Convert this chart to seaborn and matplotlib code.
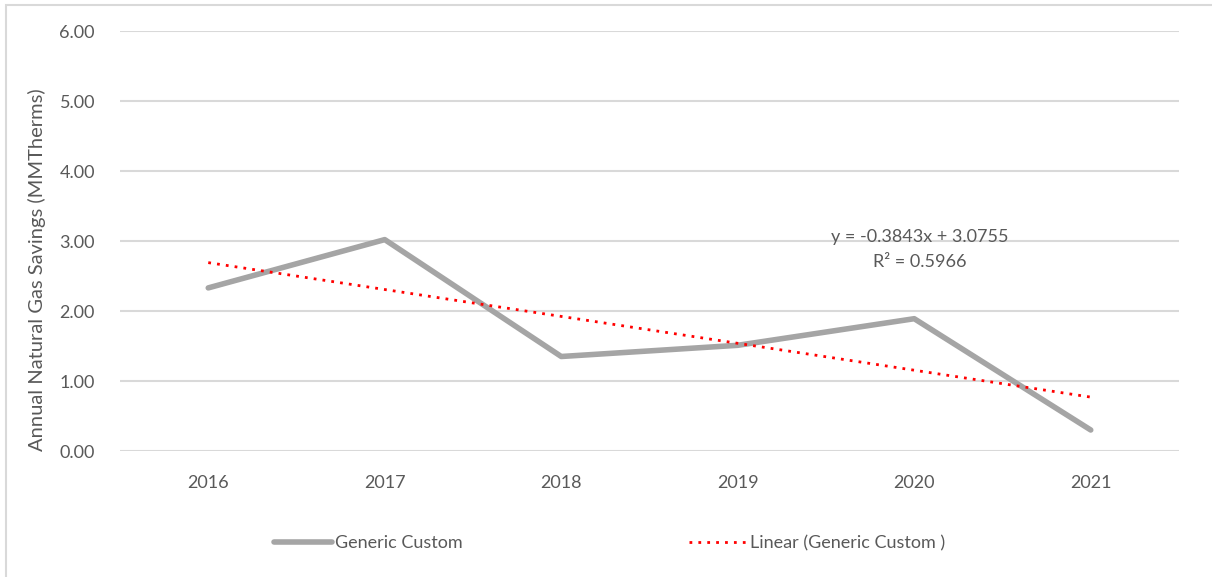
import numpy as np
import pandas as pd
import matplotlib
matplotlib.use('Agg')
import matplotlib.pyplot as plt
import seaborn as sns
from matplotlib.patches import Rectangle

# values
years = ['2016', '2017', '2018', '2019', '2020', '2021']
savings = [2.33, 3.02, 1.35, 1.51, 1.89, 0.30]
# excel linear trendline as printed on the chart (x = 1..n)
trend_slope = -0.3843
trend_intercept = 3.0755
trend_r2 = 0.5966
y_ticks = [0, 1, 2, 3, 4, 5, 6]

sns.set_style('white')
plt.rcParams['font.family'] = ['Lato', 'DejaVu Sans']

txt_col = '#595959'
grid_col = '#d9d9d9'
fs = 13

df = pd.DataFrame({'pos': np.arange(len(years)), 'year': years, 'savings': savings})
df['trend'] = trend_slope * (df['pos'] + 1) + trend_intercept

fig = plt.figure(figsize=(12.12, 5.77), dpi=100)
ax = fig.add_axes([120 / 1212, 1 - 451 / 577, (1179 - 120) / 1212, (451 - 31) / 577])

# outer chart border
fig.patches.append(Rectangle((6 / 1212, -0.05), 1.1, 1 - 5 / 577 + 0.05, transform=fig.transFigure,
                             fill=False, edgecolor=grid_col, linewidth=1.5, zorder=0))

for t in y_ticks:
    ax.axhline(t, color=grid_col, linewidth=1.5, zorder=0)

sns.lineplot(data=df, x='pos', y='savings', ax=ax, color='#a5a5a5', linewidth=4,
             solid_capstyle='round', label='Generic Custom', zorder=3)
sns.lineplot(data=df, x='pos', y='trend', ax=ax, color='#ff0000', linewidth=2,
             linestyle=(0, (1, 2.2)), label='Linear (Generic Custom )', zorder=4)

ax.set_xlim(-0.5, len(years) - 0.5)
ax.set_ylim(0, 6)
ax.set_xticks(df['pos'])
ax.set_xticklabels(years)
ax.set_yticks(y_ticks)
ax.set_yticklabels([f'{t:.2f}' for t in y_ticks])
ax.tick_params(axis='both', length=0, labelsize=fs, colors=txt_col)
ax.tick_params(axis='x', pad=17)
ax.tick_params(axis='y', pad=18)
for s in ax.spines.values():
    s.set_visible(False)

ax.set_xlabel('')
ax.set_ylabel('Annual Natural Gas Savings (MMTherms)', fontsize=14.5, color=txt_col)
ax.yaxis.set_label_coords(-0.0698, 0.431)

ax.text(4.03, 3.06, f'y = {trend_slope}x + {trend_intercept}', ha='center', va='center',
        fontsize=fs, color=txt_col)
ax.text(4.03, 2.70, f'R² = {trend_r2}', ha='center', va='center', fontsize=fs, color=txt_col)

ax.get_legend().remove()
h, l = ax.get_legend_handles_labels()
fig.legend(h, l, loc='center', bbox_to_anchor=(0.503, 1 - 543 / 577), ncol=2, frameon=False,
           fontsize=fs, labelcolor=txt_col, handlelength=3.2, handletextpad=0.2,
           columnspacing=12.5)

fig.savefig('out.png', dpi=100)
